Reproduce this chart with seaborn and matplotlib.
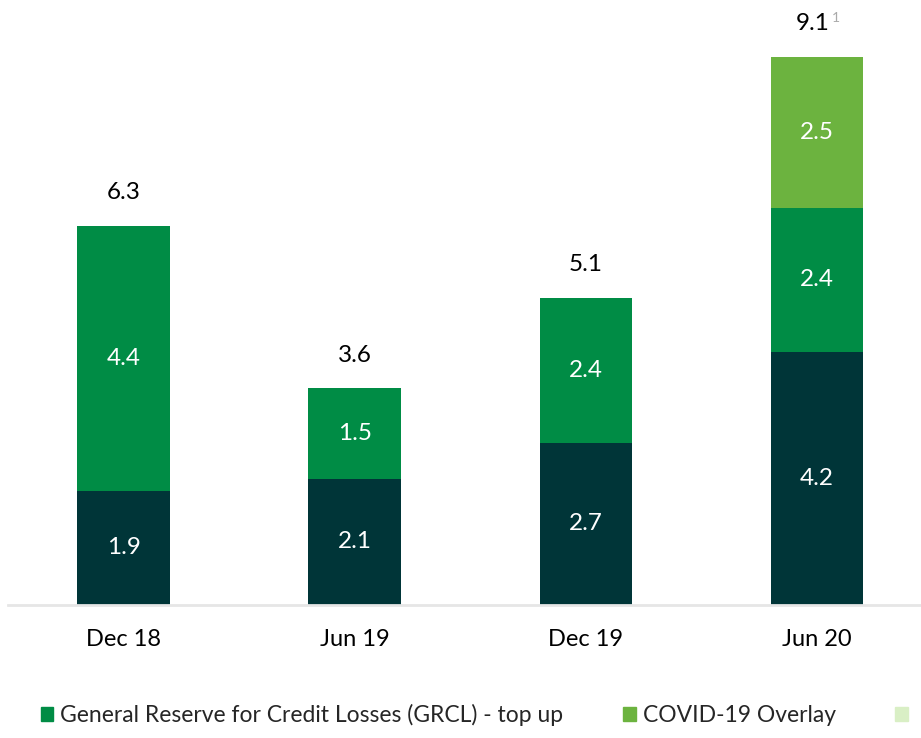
import matplotlib
matplotlib.use("Agg")
import matplotlib.pyplot as plt
import seaborn as sns
import pandas as pd
from matplotlib.patches import Patch

periods = ["Dec 18", "Jun 19", "Dec 19", "Jun 20"]
base = [1.9, 2.1, 2.7, 4.2]
grcl = [4.4, 1.5, 2.4, 2.4]
covid = [0.0, 0.0, 0.0, 2.5]
totals = ["6.3", "3.6", "5.1", "9.1"]

c_base = "#003538"
c_grcl = "#008C45"
c_covid = "#6CB33F"
c_extra = "#D9EFC5"

sns.set_theme(style="white")
plt.rcParams["font.family"] = ["Lato", "DejaVu Sans"]

df = pd.DataFrame({"period": periods, "base": base, "grcl": grcl, "covid": covid})

fig = plt.figure(figsize=(9.21, 7.38), dpi=100)
ax = fig.add_axes([0.0087, 0.18, 0.9913, 0.82])

w = 0.40
sns.barplot(data=df, x="period", y="base", color=c_base, width=w, ax=ax, saturation=1,
            linewidth=0)
sns.barplot(data=df, x="period", y="grcl", bottom=df["base"], color=c_grcl, width=w,
            ax=ax, saturation=1, linewidth=0)
sns.barplot(data=df, x="period", y="covid", bottom=df["base"] + df["grcl"], color=c_covid,
            width=w, ax=ax, saturation=1, linewidth=0)

# segment labels
for i in range(len(periods)):
    y0 = 0
    for v in (base[i], grcl[i], covid[i]):
        if v > 0:
            ax.text(i, y0 + v / 2, f"{v:.1f}", color="white", ha="center", va="center",
                    fontsize=17.5)
        y0 += v
    xi = i - 0.02 if i == 3 else i
    ax.text(xi, y0 + 0.38, totals[i], color="black", ha="center", va="bottom",
            fontsize=17.5)

# footnote marker on last total
top = base[3] + grcl[3] + covid[3]
ax.text(3.065, top + 0.55, "1", color="#AAAAAA", ha="left", va="bottom", fontsize=10)

ax.set_xlim(-0.5, 3.45)
ax.set_ylim(0, 10.05)
ax.set_xlabel("")
ax.set_ylabel("")
ax.set_yticks([])
ax.tick_params(axis="x", length=0, labelsize=17, pad=17, colors="black")
for s in ["top", "right", "left"]:
    ax.spines[s].set_visible(False)
ax.spines["bottom"].set_color("#E6E6E6")
ax.spines["bottom"].set_linewidth(2)

handles = [Patch(color=c_grcl), Patch(color=c_covid), Patch(color=c_extra)]
labels = ["General Reserve for Credit Losses (GRCL) - top up", "COVID-19 Overlay", ""]
fig.legend(handles, labels, loc="lower left", bbox_to_anchor=(0.022, -0.012), ncol=3,
           frameon=False, fontsize=16.5, handlelength=0.55, handleheight=0.55,
           handletextpad=0.3, columnspacing=2.6)

fig.savefig("out.png", dpi=100)
